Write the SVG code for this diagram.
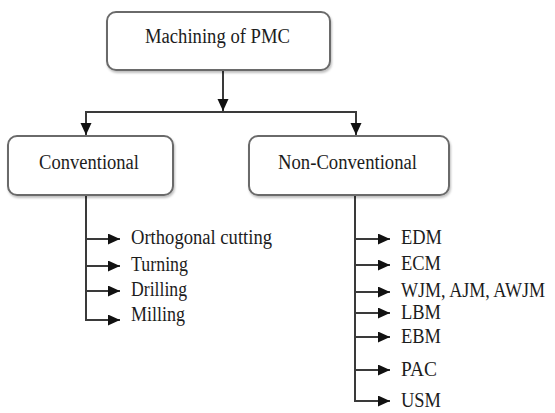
<svg xmlns="http://www.w3.org/2000/svg" width="555" height="413" viewBox="0 0 555 413">
  <defs>
    <marker id="ah" markerUnits="userSpaceOnUse" markerWidth="14" markerHeight="12" refX="12" refY="5.5" orient="auto">
      <path d="M0,0 L12,5.5 L0,11 Z" fill="#111"/>
    </marker>
    <filter id="sh" x="-5%" y="-5%" width="115%" height="125%">
      <feDropShadow dx="1" dy="2" stdDeviation="1" flood-color="#000" flood-opacity="0.25"/>
    </filter>
  </defs>
  <style>
    .box { fill: #fff; stroke: #6b6b6b; stroke-width: 2; }
    .t { font-family: "Liberation Serif", "Times New Roman", "DejaVu Serif", serif; font-size: 20px; fill: #1c1c1c; }
    .c { fill: none; stroke: #3a3a3a; stroke-width: 2; }
    .a { fill: none; stroke: #3a3a3a; stroke-width: 2; }
  </style>
  <rect width="555" height="413" fill="#fff"/>

  <g id="connectors">
    <line class="a" x1="223" y1="70" x2="223" y2="111" marker-end="url(#ah)"/>
    <polyline class="c" points="86,124 86,112 356,112 356,124"/>
    <line class="a" x1="86" y1="112" x2="86" y2="135" marker-end="url(#ah)"/>
    <line class="a" x1="356" y1="112" x2="356" y2="135" marker-end="url(#ah)"/>

    <line class="c" x1="86" y1="195" x2="86" y2="321"/>
    <line class="a" x1="85" y1="239" x2="120" y2="239" marker-end="url(#ah)"/>
    <line class="a" x1="85" y1="266" x2="120" y2="266" marker-end="url(#ah)"/>
    <line class="a" x1="85" y1="291" x2="120" y2="291" marker-end="url(#ah)"/>
    <line class="a" x1="85" y1="320" x2="120" y2="320" marker-end="url(#ah)"/>

    <line class="c" x1="355" y1="195" x2="355" y2="402"/>
    <line class="a" x1="354" y1="239" x2="390" y2="239" marker-end="url(#ah)"/>
    <line class="a" x1="354" y1="265" x2="390" y2="265" marker-end="url(#ah)"/>
    <line class="a" x1="354" y1="292" x2="390" y2="292" marker-end="url(#ah)"/>
    <line class="a" x1="354" y1="313" x2="390" y2="313" marker-end="url(#ah)"/>
    <line class="a" x1="354" y1="337" x2="390" y2="337" marker-end="url(#ah)"/>
    <line class="a" x1="354" y1="370" x2="390" y2="370" marker-end="url(#ah)"/>
    <line class="a" x1="354" y1="401" x2="390" y2="401" marker-end="url(#ah)"/>
  </g>

  <g id="root">
    <rect class="box" x="107" y="12" width="223" height="58" rx="9" filter="url(#sh)"/>
    <text class="t" x="145" y="43" textLength="145" lengthAdjust="spacingAndGlyphs">Machining of PMC</text>
  </g>
  <g id="conventional">
    <rect class="box" x="8" y="136" width="165" height="59" rx="9" filter="url(#sh)"/>
    <text class="t" x="39" y="169" textLength="100" lengthAdjust="spacingAndGlyphs">Conventional</text>
  </g>
  <g id="non-conventional">
    <rect class="box" x="249" y="136" width="200" height="59" rx="9" filter="url(#sh)"/>
    <text class="t" x="278" y="169" textLength="139" lengthAdjust="spacingAndGlyphs">Non-Conventional</text>
  </g>

  <g id="conv-items">
    <text class="t" x="131" y="244" textLength="141" lengthAdjust="spacingAndGlyphs">Orthogonal cutting</text>
    <text class="t" x="131" y="271" textLength="57" lengthAdjust="spacingAndGlyphs">Turning</text>
    <text class="t" x="131" y="296" textLength="56" lengthAdjust="spacingAndGlyphs">Drilling</text>
    <text class="t" x="131" y="321" textLength="54" lengthAdjust="spacingAndGlyphs">Milling</text>
  </g>

  <g id="nonconv-items">
    <text class="t" x="401" y="244" textLength="41" lengthAdjust="spacingAndGlyphs">EDM</text>
    <text class="t" x="401" y="270" textLength="40" lengthAdjust="spacingAndGlyphs">ECM</text>
    <text class="t" x="401" y="297" font-size="18" textLength="144" lengthAdjust="spacingAndGlyphs">WJM, AJM, AWJM</text>
    <text class="t" x="401" y="319" textLength="40" lengthAdjust="spacingAndGlyphs">LBM</text>
    <text class="t" x="401" y="343" textLength="40" lengthAdjust="spacingAndGlyphs">EBM</text>
    <text class="t" x="401" y="376" textLength="36" lengthAdjust="spacingAndGlyphs">PAC</text>
    <text class="t" x="401" y="407" textLength="40" lengthAdjust="spacingAndGlyphs">USM</text>
  </g>
</svg>
